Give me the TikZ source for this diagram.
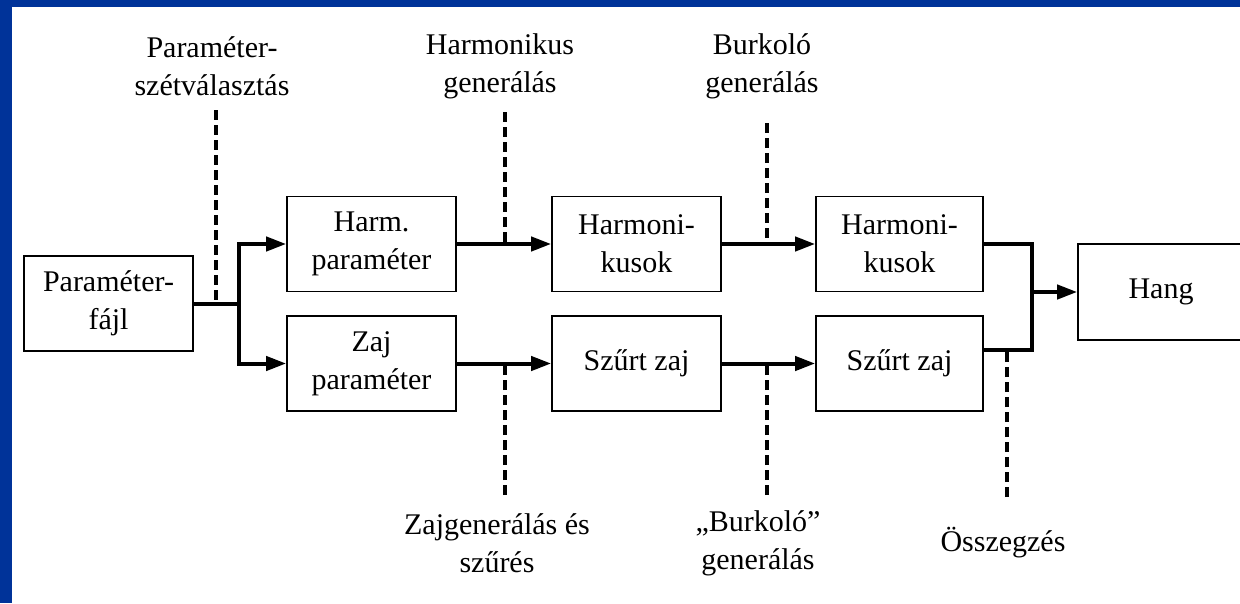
\documentclass[tikz,border=0pt]{standalone}
\usepackage{fontspec}
\setmainfont{Liberation Serif}
\usetikzlibrary{arrows.meta}
\definecolor{frameblue}{RGB}{0,51,153}
\begin{document}
\begin{tikzpicture}[x=1pt,y=-1pt,
  blk/.style={draw,line width=1.6pt,minimum width=169pt,minimum height=95pt,align=center,inner sep=0pt,font=\fontsize{30}{38}\selectfont},
  conn/.style={line width=4pt},
  arr/.style={conn,-{Triangle[length=20pt,width=14pt]}},
  dsh/.style={line width=3.5pt,dash pattern=on 10pt off 5pt},
  lbl/.style={align=center,inner sep=0pt,font=\fontsize{30}{38}\selectfont}]
\fill[frameblue] (0,0) rectangle (1240,603);
\fill[white] (12,7) rectangle (1240,603);
\useasboundingbox (0,0) rectangle (1240,603);

\node[blk] (pf) at (108.5,303.5) {Paraméter-\\fájl};
\node[blk] (hp) at (371.5,244) {Harm.\\paraméter};
\node[blk] (zp) at (371.5,363.5) {Zaj\\paraméter};
\node[blk] (h1) at (636.5,244) {Harmoni-\\kusok};
\node[blk] (s1) at (636.5,363.5) {Szűrt zaj};
\node[blk,minimum width=167pt] (h2) at (899.5,244) {Harmoni-\\kusok};
\node[blk,minimum width=167pt] (s2) at (899.5,363.5) {Szűrt zaj};
\node[blk,minimum width=166pt,minimum height=96pt] (hang) at (1161,292) {Hang};

\coordinate (split) at (239,303.5);
\draw[conn] (pf.east) -- (split);
\draw[arr] (split) |- (hp.west);
\draw[arr] (split) |- (zp.west);
\draw[arr] (hp) -- (h1);
\draw[arr] (zp) -- (s1);
\draw[arr] (h1) -- (h2);
\draw[arr] (s1) -- (s2);
\coordinate (mrg) at (1032,292);
\coordinate (s2out) at ([yshift=13.5pt]s2.east);
\draw[conn] (h2.east) -| (mrg) |- (s2out);
\draw[arr] (mrg) -- (hang.west);

\coordinate (t1) at (216,110);
\draw[dsh] (t1) -- (t1 |- split);
\coordinate (t2) at (505,112);
\draw[dsh] (t2) -- (t2 |- hp.east);
\coordinate (t3) at (767,123);
\draw[dsh] (t3) -- (t3 |- h1.east);
\coordinate (b1) at (505,495);
\draw[dsh] (b1) -- (b1 |- zp.east);
\coordinate (b2) at (767,495);
\draw[dsh] (b2) -- (b2 |- s1.east);
\coordinate (b3) at (1007,497);
\draw[dsh] (b3) -- (b3 |- s2out);

\node[lbl] (l1) at (212,66) {Paraméter-\\szétválasztás};
\node[lbl] (l2) at (500,66) {Harmonikus\\generálás};
\node[lbl] (l3) at (762,66) {Burkoló\\generálás};
\node[lbl] (l4) at (497,543) {Zajgenerálás és\\szűrés};
\node[lbl] (l5) at (758,543) {„Burkoló”\\generálás};
\node[lbl] (l6) at (1003,543) {Összegzés};
\end{tikzpicture}
\end{document}
